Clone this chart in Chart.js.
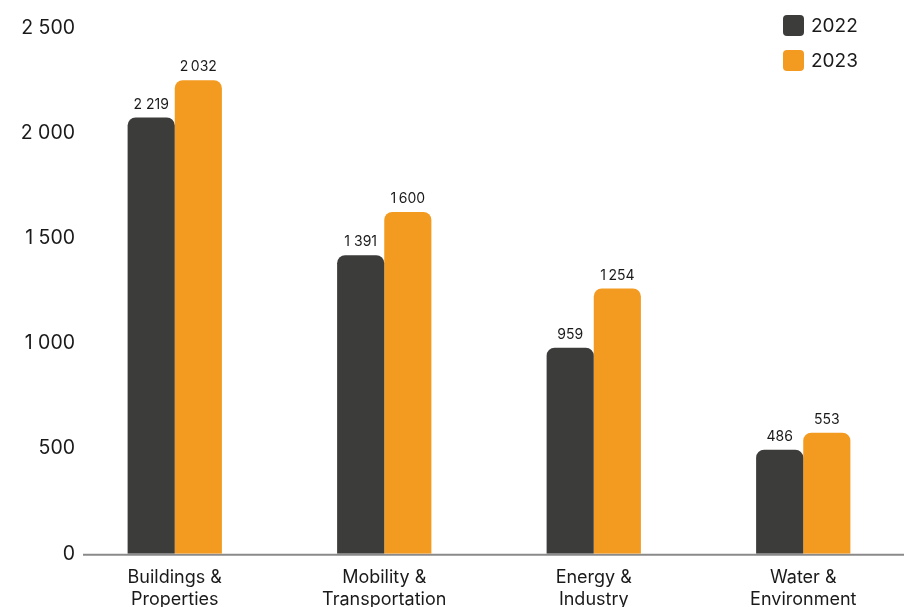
<!DOCTYPE html>
<html>
<head>
<meta charset="utf-8">
<script src="https://cdn.jsdelivr.net/npm/chart.js@4"></script>
<style>
  html, body { margin: 0; padding: 0; background: #fff; overflow: hidden; }
  .chart { width: 912px; height: 623px; }
</style>
</head>
<body>
<div class="chart"><canvas id="myChart"></canvas></div>
<script>
Chart.defaults.font.family = "Inter, 'Noto Sans', sans-serif";
Chart.defaults.color = "#1a1a1a";

// categories (two-line labels)
const categories = [
  ['Buildings &', 'Properties'],
  ['Mobility &', 'Transportation'],
  ['Energy &', 'Industry'],
  ['Water &', 'Environment']
];
const seriesNames = ['2022', '2023'];
// bar heights
const values2022 = [2075, 1420, 980, 495];
const values2023 = [2252, 1625, 1262, 576];
// numbers printed above the bars
const labels2022 = ['2 219', '1 391', '959', '486'];
const labels2023 = ['2\u202F032', '1\u202F600', '1\u202F254', '553'];
const yTicks = [0, 500, 1000, 1500, 2000, 2500];

const barColors = ['#3c3c3b', '#f39a21'];
const barLabels = [labels2022, labels2023];

function formatTick(v) {
  return v >= 1000 ? Math.floor(v / 1000) + ' ' + String(v % 1000).padStart(3, '0') : String(v);
}

// bar value labels
const valueLabels = {
  id: 'valueLabels',
  afterDatasetsDraw(chart) {
    let ctx = chart.ctx;
    ctx.save();
    ctx.font = "14px Inter, 'Noto Sans', sans-serif";
    ctx.fillStyle = '#1a1a1a';
    ctx.textAlign = 'center';
    ctx.textBaseline = 'bottom';
    chart.data.datasets.forEach((ds, i) => {
      chart.getDatasetMeta(i).data.forEach((bar, j) => {
        ctx.fillText(barLabels[i][j], bar.x, bar.y - 6);
      });
    });
    ctx.restore();
  }
};

// y tick labels and base line, drawn a little past the axis edge (the scale clips its own labels)
const yLabels = {
  id: 'yLabels',
  beforeDatasetsDraw(chart) {
    let ctx = chart.ctx;
    let y0 = chart.scales.y.getPixelForValue(0);
    ctx.save();
    ctx.strokeStyle = '#8a8a8a';
    ctx.lineWidth = 2;
    ctx.beginPath();
    ctx.moveTo(83, y0 + 1);
    ctx.lineTo(chart.width, y0 + 1);
    ctx.stroke();
    ctx.restore();
  },
  afterDraw(chart) {
    let ctx = chart.ctx;
    let y = chart.scales.y;
    ctx.save();
    ctx.font = "19.5px Inter, 'Noto Sans', sans-serif";
    ctx.fillStyle = '#1a1a1a';
    ctx.textAlign = 'right';
    ctx.textBaseline = 'middle';
    y.ticks.forEach(t => {
      ctx.fillText(formatTick(t.value), 75, y.getPixelForValue(t.value));
    });
    ctx.restore();
  }
};

const boxLegend = {
  id: 'boxLegend',
  afterDraw(chart) {
    let ctx = chart.ctx;
    ctx.save();
    ctx.font = "19px Inter, 'Noto Sans', sans-serif";
    ctx.textBaseline = 'middle';
    chart.data.datasets.forEach((ds, i) => {
      let x = 783, y = 15 + i * 35;
      ctx.fillStyle = ds.backgroundColor;
      ctx.beginPath();
      ctx.roundRect(x, y, 21, 21, 4);
      ctx.fill();
      ctx.fillStyle = '#1a1a1a';
      ctx.fillText(ds.label, x + 28, y + 11);
    });
    ctx.restore();
  }
};

new Chart('myChart', {
  type: 'bar',
  data: {
    labels: categories,
    datasets: [
      { label: seriesNames[0], data: values2022, backgroundColor: barColors[0] },
      { label: seriesNames[1], data: values2023, backgroundColor: barColors[1] }
    ]
  },
  options: {
    responsive: true,
    maintainAspectRatio: false,
    animation: false,
    layout: { padding: { top: 28, right: 4, left: 0, bottom: 0 } },
    datasets: {
      bar: {
        categoryPercentage: 0.45,
        barPercentage: 1.0,
        borderRadius: { topLeft: 8, topRight: 8 },
        borderSkipped: 'bottom'
      }
    },
    plugins: {
      legend: { display: false },
      tooltip: { enabled: false }
    },
    scales: {
      x: {
        grid: { display: false, drawTicks: false },
        border: { display: false, width: 2 },
        ticks: {
          font: { size: 18, lineHeight: 1.2 },
          padding: 13,
          maxRotation: 0,
          autoSkip: false
        }
      },
      y: {
        min: 0,
        max: 2500,
        afterBuildTicks(axis) {
          axis.ticks = yTicks.map(v => ({ value: v }));
        },
        grid: { display: false, drawTicks: false },
        border: { display: false },
        ticks: { display: false },
        afterFit(axis) { axis.width = 70; }
      }
    }
  },
  plugins: [valueLabels, yLabels, boxLegend]
});
</script>
</body>
</html>
